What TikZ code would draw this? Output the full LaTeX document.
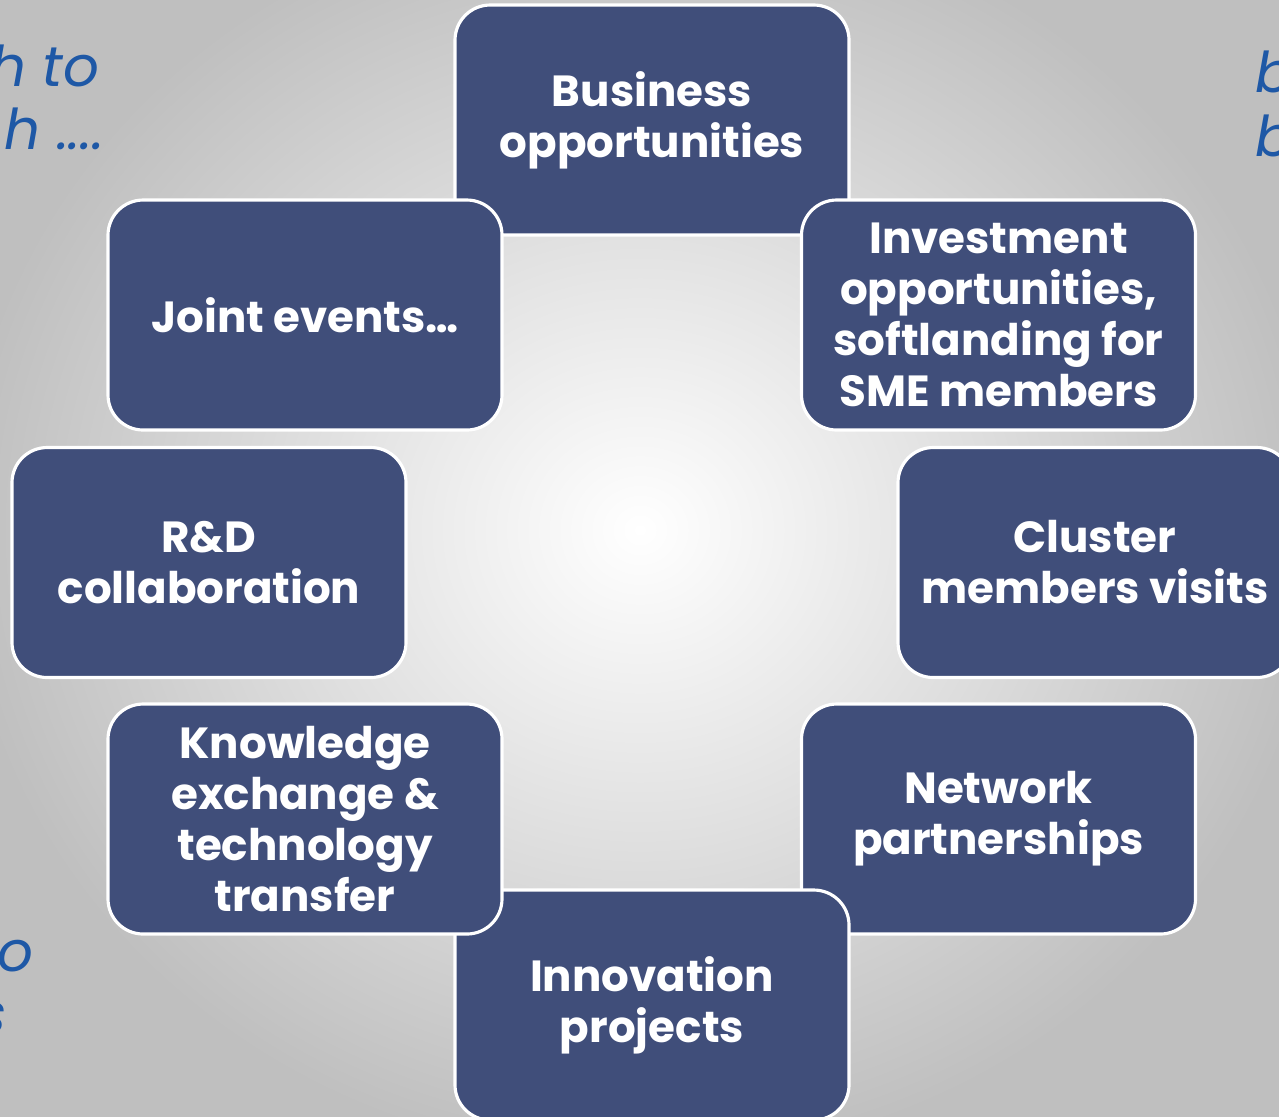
\documentclass[tikz,border=0pt]{standalone}
\usepackage{fontspec}
\setmainfont{Poppins}
\usepackage{tikz}
\usetikzlibrary{positioning, calc, backgrounds}
\definecolor{boxblue}{RGB}{64,78,122}
\definecolor{noteblue}{RGB}{30,88,166}
\tikzset{%
	box/.style={draw=white, line width=0.9pt, fill=boxblue, rectangle, rounded corners=10pt,%
		minimum width=3.94cm, minimum height=2.30cm, inner sep=0pt, align=center,%
		text=white, font=\fontsize{12.4}{14.5}\selectfont\bfseries},
	link/.style={draw=boxblue, line width=0.5pt},
	note/.style={text=noteblue, inner sep=0pt, font=\fontsize{16}{16}\selectfont\itshape}
}
\begin{document}
\begin{tikzpicture}
	\useasboundingbox (0,0) rectangle (12.79,-11.16);
	\clip (0,0) rectangle (12.79,-11.16);
	\fill[black!27] (0,0) rectangle (12.79,-11.16);
	\shade[inner color=white, outer color=black!25] (-0.4,1.0) rectangle (13.2,-11.6);

	\node[note, anchor=base east] (left1) at (1.00,-0.86) {h to};
	\node[note, anchor=base east] (left2) at (1.05,-1.49) {h ....};
	\node[note, anchor=base east] (left3) at (0.34,-9.71) {o};
	\node[note, anchor=base east] (left4) at (0.08,-10.33) {s};
	\node[note, anchor=base west] (right1) at (12.55,-0.92) {b};
	\node[note, anchor=base west] (right2) at (12.55,-1.56) {b};

	\coordinate (c1) at (6.52,-1.20);
	\coordinate (c2) at (9.985,-3.15);
	\coordinate (c3) at (10.95,-5.625);
	\coordinate (c4) at (9.985,-8.19);
	\coordinate (c5) at (6.52,-10.05);
	\coordinate (c6) at (3.05,-8.19);
	\coordinate (c7) at (2.09,-5.625);
	\coordinate (c8) at (3.05,-3.15);

	\node[box] (business) at (c1) {Business\\opportunities};
	\node[box] (invest) at (c2) {Investment\\opportunities,\\softlanding for\\SME members};
	\node[box] (cluster) at (c3) {Cluster\\members visits};
	\node[box] (network) at (c4) {Network\\partnerships};
	\node[box] (innovation) at (c5) {Innovation\\projects};
	\node[box] (knowledge) at (c6) {Knowledge\\exchange \&\\technology\\transfer};
	\node[box] (rnd) at (c7) {R\&D\\collaboration};
	\node[box] (joint) at (c8) {Joint events\dots};

	\begin{scope}[on background layer]
		\draw[link] ([yshift=-0.46cm]business.east) -- ([xshift=-1.24cm]invest.north);
		\draw[link] ([xshift=0.59cm]invest.south) -- ([xshift=-0.16cm]cluster.north);
		\draw[link] ([xshift=-0.16cm]cluster.south) -- ([xshift=0.62cm]network.north);
		\draw[link] ([xshift=-1.28cm]network.south) -- ([yshift=0.48cm]innovation.east);
		\draw[link] ([yshift=0.47cm]innovation.west) -- ([xshift=1.28cm]knowledge.south);
		\draw[link] ([xshift=-0.60cm]knowledge.north) -- ([xshift=0.16cm]rnd.south);
		\draw[link] ([xshift=0.16cm]rnd.north) -- ([xshift=-0.58cm]joint.south);
		\draw[link] ([xshift=1.23cm]joint.north) -- ([yshift=-0.46cm]business.west);
	\end{scope}
\end{tikzpicture}
\end{document}
